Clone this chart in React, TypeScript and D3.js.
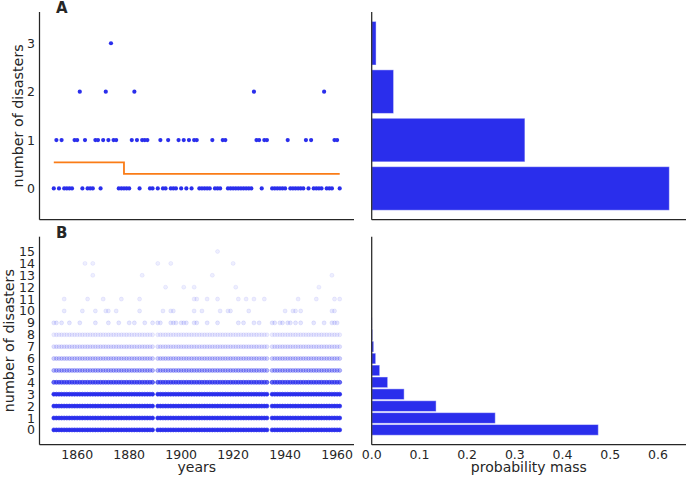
import React, { useEffect, useRef } from 'react';
import * as d3 from 'd3';

// observed disasters per year, starting 1851 (null = missing year)
const firstYear = 1851;
const disasters: (number | null)[] = [
    0, 1, 0, 1, 0, 0, 0, 0, 1, 1,
    2, 0, 1, 0, 0, 0, 1, 1, 0, 1,
    2, 1, 3, 1, 1, 0, 0, 0, 0, 0,
    1, 2, 1, 0, 1, 1, 1, 0, 0, null,
    0, 1, 0, 0, 1, 0, 0, 0, 1, 0,
    1, 0, 1, 0, 1, 1, 0, 0, 0, 0,
    0, 1, 0, 0, 0, 1, 1, 0, 0, 0,
    0, 0, 0, 0, 0, 0, 0, 2, 1, 1,
    0, 1, 1, null, 0, 0, 0, 0, 0, 0,
    1, 0, 0, 0, 0, 0, 0, 1, 0, 1,
    0, 0, 0, 0, 2, 0, 0, 0, 1, 1,
    0,
];

// posterior mean rate (orange step line)
const rateSegments = [
    { from: 1851, to: 1878, rate: 0.54 },
    { from: 1878, to: 1961, rate: 0.3 },
];

// posterior predictive: levels hit in (nearly) every year, with their opacity
const denseLevels = [0, 1, 2, 3, 4, 5, 6, 7, 8];
const denseAlpha = [1, 1, 1, 1, 0.7, 0.34, 0.22, 0.14, 0.09];

// posterior predictive: sparse levels, years with a sample
const sparseLevels = [9, 10, 11, 12, 13, 14, 15];
const sparseAlpha = [0.12, 0.1, 0.09, 0.08, 0.08, 0.08, 0.08];
const sparseYears: number[][] = [
    [1851, 1852, 1854, 1857, 1861, 1867, 1872, 1876, 1880, 1882, 1886, 1889, 1891, 1892,
        1896, 1897, 1898, 1900, 1901, 1902, 1905, 1906, 1910, 1914, 1922, 1924, 1928, 1930,
        1935, 1936, 1938, 1939, 1941, 1942, 1944, 1946, 1951, 1955, 1958, 1959, 1960],
    [1855, 1862, 1867, 1871, 1872, 1875, 1884, 1893, 1896, 1897, 1905, 1908, 1915, 1918,
        1919, 1926, 1940, 1943, 1944, 1946, 1958, 1959],
    [1855, 1864, 1870, 1877, 1884, 1905, 1906, 1910, 1914, 1922, 1925, 1928, 1932, 1945,
        1952, 1959, 1961],
    [1894, 1901, 1905, 1921, 1953],
    [1866, 1885, 1912, 1958],
    [1863, 1866, 1891, 1896, 1920],
    [1914],
];

// posterior predictive probability mass per count
const ppCounts = [0, 1, 2, 3, 4, 5, 6, 7, 8, 9, 10, 11, 12, 13, 14, 15];
const ppMass = [0.475, 0.259, 0.135, 0.068, 0.0335, 0.0168, 0.0084, 0.0042, 0.0018, 0.0008,
    0.0004, 0.0002, 0.0001, 0.00005, 0.00003, 0.00001];

const yearTicks = [1860, 1880, 1900, 1920, 1940, 1960];
const massTicks = [0, 0.1, 0.2, 0.3, 0.4, 0.5, 0.6];
const topTicks = [0, 1, 2, 3];
const bottomTicks = d3.range(0, 16);

const BLUE = '#2a2eec';
const ORANGE = '#fa7c17';
const INK = '#262626';
const FONT = 'DejaVu Sans, sans-serif';

const App: React.FC = () => {
    const svgRef = useRef<SVGSVGElement>(null);

    useEffect(() => {
        if (!svgRef.current) return;
        const svg = d3.select(svgRef.current);
        svg.selectAll('*').remove();

        // panel boxes
        const lx0 = 39.5, lx1 = 354, rx0 = 371.7, rx1 = 686;
        const ty0 = 12, ty1 = 219.7, by0 = 236.7, by1 = 444.7;

        const years = disasters.map((_, i) => firstYear + i);
        const lastYear = years[years.length - 1];
        const span = lastYear - firstYear;

        const x = d3.scaleLinear()
            .domain([firstYear - span * 0.05, lastYear + span * 0.05])
            .range([lx0, lx1]);

        const observed = disasters.filter(d => d !== null) as number[];
        const maxObs = d3.max(observed) as number;
        const padA = (maxObs + 0.9) * 0.05;
        const yA = d3.scaleLinear().domain([-0.45 - padA, maxObs + 0.45 + padA]).range([ty1, ty0]);

        const maxPP = d3.max(ppCounts) as number;
        const padB = (maxPP + 0.9) * 0.05;
        const yB = d3.scaleLinear().domain([-0.45 - padB, maxPP + 0.45 + padB]).range([by1, by0]);

        // observed histogram
        const obsLevels = d3.range(0, maxObs + 1);
        const obsMass = obsLevels.map(k => observed.filter(v => v === k).length / observed.length);
        const xm = d3.scaleLinear()
            .domain([0, (d3.max(obsMass) as number) * 1.056])
            .range([rx0, rx1]);

        // ---- panel A: observed data ----
        svg.append('path')
            .attr('d', () => {
                const p = d3.path();
                rateSegments.forEach((s, i) => {
                    if (i === 0) p.moveTo(x(s.from), yA(s.rate));
                    else p.lineTo(x(s.from), yA(s.rate));
                    p.lineTo(x(s.to), yA(s.rate));
                });
                return p.toString();
            })
            .attr('fill', 'none')
            .attr('stroke', ORANGE)
            .attr('stroke-width', 1.8);

        svg.append('g')
            .selectAll('circle')
            .data(disasters.map((v, i) => ({ year: years[i], v })).filter(d => d.v !== null))
            .join('circle')
            .attr('cx', d => x(d.year))
            .attr('cy', d => yA(d.v as number))
            .attr('r', 2.1)
            .attr('fill', BLUE);

        // ---- panel A right: observed mass ----
        const barA = yA(0) - yA(0.9);
        svg.append('g')
            .selectAll('rect')
            .data(obsLevels)
            .join('rect')
            .attr('x', rx0)
            .attr('y', k => yA(k + 0.45))
            .attr('width', k => xm(obsMass[k]) - rx0)
            .attr('height', barA)
            .attr('fill', BLUE)
            .attr('stroke', '#fff')
            .attr('stroke-opacity', 0.45)
            .attr('stroke-width', 1);

        // ---- panel B: posterior predictive ----
        const gB = svg.append('g');
        const validYears = years.filter((_, i) => disasters[i] !== null);
        const dotsB = (lvl: number, ys: number[], a: number) => {
            gB.append('g')
                .selectAll('circle')
                .data(ys)
                .join('circle')
                .attr('cx', yr => x(yr))
                .attr('cy', yB(lvl))
                .attr('r', 2)
                .attr('fill', BLUE)
                .attr('fill-opacity', a)
                .attr('stroke', BLUE)
                .attr('stroke-opacity', Math.min(1, a * 1.4))
                .attr('stroke-width', 0.6);
        };
        sparseLevels.forEach((lvl, i) => dotsB(lvl, sparseYears[i], sparseAlpha[i]));
        denseLevels.slice().reverse().forEach(lvl => dotsB(lvl, validYears, denseAlpha[lvl]));

        // ---- panel B right: predictive mass ----
        const barB = yB(0) - yB(0.9);
        svg.append('g')
            .selectAll('rect')
            .data(ppCounts)
            .join('rect')
            .attr('x', rx0)
            .attr('y', k => yB(k + 0.45))
            .attr('width', k => Math.max(0, xm(ppMass[k]) - rx0))
            .attr('height', barB)
            .attr('fill', BLUE)
            .attr('stroke', '#fff')
            .attr('stroke-opacity', 0.45)
            .attr('stroke-width', 1);

        // ---- spines ----
        const spine = (x1: number, y1: number, x2: number, y2: number) => {
            svg.append('line')
                .attr('x1', x1).attr('y1', y1).attr('x2', x2).attr('y2', y2)
                .attr('stroke', INK)
                .attr('stroke-width', 1.25);
        };
        spine(lx0, ty0, lx0, ty1); spine(lx0, ty1, lx1, ty1);
        spine(rx0, ty0, rx0, ty1); spine(rx0, ty1, rx1, ty1);
        spine(lx0, by0, lx0, by1); spine(lx0, by1, lx1, by1);
        spine(rx0, by0, rx0, by1); spine(rx0, by1, rx1, by1);

        // ---- tick labels ----
        const txt = svg.append('g')
            .attr('font-family', FONT)
            .attr('fill', INK);

        txt.selectAll('.ta')
            .data(topTicks)
            .join('text')
            .attr('x', lx0 - 4.5)
            .attr('y', d => yA(d))
            .attr('dy', '0.36em')
            .attr('text-anchor', 'end')
            .attr('font-size', 12.5)
            .text(d => d);

        txt.selectAll('.tb')
            .data(bottomTicks)
            .join('text')
            .attr('x', lx0 - 4.5)
            .attr('y', d => yB(d))
            .attr('dy', '0.36em')
            .attr('text-anchor', 'end')
            .attr('font-size', 12.5)
            .text(d => d);

        txt.selectAll('.tx')
            .data(yearTicks)
            .join('text')
            .attr('x', d => x(d))
            .attr('y', 459)
            .attr('text-anchor', 'middle')
            .attr('font-size', 12.5)
            .text(d => d);

        txt.selectAll('.tm')
            .data(massTicks)
            .join('text')
            .attr('x', d => xm(d))
            .attr('y', 459)
            .attr('text-anchor', 'middle')
            .attr('font-size', 12.5)
            .text(d => d3.format('.1f')(d));

        // ---- axis labels ----
        txt.append('text')
            .attr('transform', `translate(22.7, ${(ty0 + ty1) / 2}) rotate(-90)`)
            .attr('text-anchor', 'middle')
            .attr('font-size', 14.3)
            .text('number of disasters');
        txt.append('text')
            .attr('transform', `translate(14, ${(by0 + by1) / 2}) rotate(-90)`)
            .attr('text-anchor', 'middle')
            .attr('font-size', 14.3)
            .text('number of disasters');
        txt.append('text')
            .attr('x', (lx0 + lx1) / 2)
            .attr('y', 472)
            .attr('text-anchor', 'middle')
            .attr('font-size', 14)
            .text('years');
        txt.append('text')
            .attr('x', (rx0 + rx1) / 2)
            .attr('y', 472)
            .attr('text-anchor', 'middle')
            .attr('font-size', 14)
            .text('probability mass');

        // panel letters
        txt.append('text')
            .attr('x', lx0 + 16.5)
            .attr('y', ty0 + 0.8)
            .attr('font-size', 15)
            .attr('font-weight', 'bold')
            .text('A');
        txt.append('text')
            .attr('x', lx0 + 16.5)
            .attr('y', by0 + 1)
            .attr('font-size', 15)
            .attr('font-weight', 'bold')
            .text('B');
    }, []);

    return (
        <svg ref={svgRef} width={688} height={480}
            style={{ position: 'absolute', left: 0, top: 0, background: '#fff' }} />
    );
};

export default App;
